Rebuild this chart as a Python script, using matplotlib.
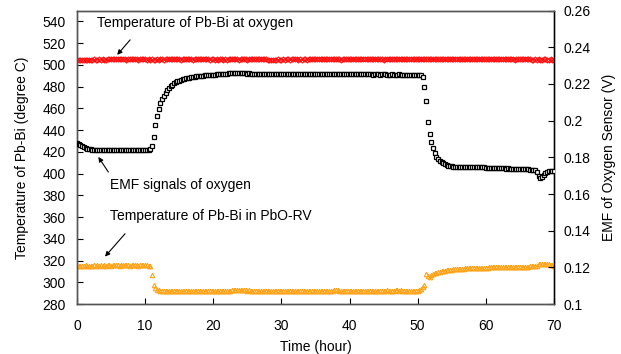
import numpy as np
import matplotlib
matplotlib.use("Agg")
import matplotlib.pyplot as plt

plt.rcParams["font.family"] = ["Liberation Sans", "DejaVu Sans"]

# sampling every 0.25 h, 0 .. 70 h
STEP = 0.25

# EMF of oxygen sensor (V)
emf = [
    0.1880, 0.1872, 0.1865, 0.1860, 0.1855, 0.1851, 0.1848, 0.1846, 0.1844, 0.1842,
    0.1841, 0.1840, 0.1840, 0.1839, 0.1839, 0.1838, 0.1839, 0.1838, 0.1838, 0.1839,
    0.1838, 0.1839, 0.1840, 0.1839, 0.1838, 0.1839, 0.1841, 0.1840, 0.1839, 0.1838,
    0.1839, 0.1840, 0.1841, 0.1840, 0.1839, 0.1838, 0.1839, 0.1840, 0.1839, 0.1840,
    0.1840, 0.1840, 0.1841, 0.1843, 0.1862, 0.1912, 0.1975, 0.2028, 0.2065, 0.2095,
    0.2119, 0.2137, 0.2153, 0.2168, 0.2180, 0.2189, 0.2197, 0.2204, 0.2209, 0.2214,
    0.2219, 0.2222, 0.2226, 0.2229, 0.2231, 0.2233, 0.2235, 0.2237, 0.2239, 0.2240,
    0.2242, 0.2243, 0.2244, 0.2245, 0.2246, 0.2247, 0.2247, 0.2248, 0.2249, 0.2249,
    0.2250, 0.2251, 0.2252, 0.2253, 0.2254, 0.2255, 0.2256, 0.2257, 0.2257, 0.2258,
    0.2259, 0.2260, 0.2260, 0.2261, 0.2260, 0.2261, 0.2259, 0.2258, 0.2259, 0.2258,
    0.2257, 0.2258, 0.2256, 0.2257, 0.2255, 0.2256, 0.2257, 0.2256, 0.2255, 0.2254,
    0.2255, 0.2256, 0.2255, 0.2254, 0.2255, 0.2256, 0.2257, 0.2256, 0.2255, 0.2254,
    0.2255, 0.2254, 0.2253, 0.2254, 0.2255, 0.2256, 0.2255, 0.2254, 0.2253, 0.2254,
    0.2255, 0.2256, 0.2257, 0.2256, 0.2255, 0.2254, 0.2253, 0.2254, 0.2255, 0.2254,
    0.2253, 0.2254, 0.2255, 0.2256, 0.2255, 0.2254, 0.2253, 0.2252, 0.2253, 0.2254,
    0.2255, 0.2254, 0.2253, 0.2254, 0.2255, 0.2254, 0.2253, 0.2252, 0.2253, 0.2254,
    0.2255, 0.2256, 0.2255, 0.2254, 0.2253, 0.2252, 0.2253, 0.2254, 0.2253, 0.2252,
    0.2253, 0.2254, 0.2253, 0.2252, 0.2251, 0.2252, 0.2253, 0.2252, 0.2251, 0.2252,
    0.2253, 0.2252, 0.2251, 0.2250, 0.2251, 0.2252, 0.2251, 0.2250, 0.2251, 0.2252,
    0.2251, 0.2250, 0.2251, 0.2250, 0.2251, 0.2250, 0.2249, 0.2250, 0.2251, 0.2250,
    0.2250, 0.2249, 0.2247, 0.2238, 0.2185, 0.2108, 0.1995, 0.1930, 0.1882, 0.1852,
    0.1822, 0.1803, 0.1789, 0.1780, 0.1773, 0.1767, 0.1762, 0.1758, 0.1755, 0.1752,
    0.1751, 0.1750, 0.1750, 0.1749, 0.1749, 0.1748, 0.1749, 0.1748, 0.1747, 0.1748,
    0.1747, 0.1747, 0.1746, 0.1747, 0.1746, 0.1746, 0.1745, 0.1746, 0.1745, 0.1745,
    0.1744, 0.1744, 0.1743, 0.1744, 0.1743, 0.1742, 0.1742, 0.1741, 0.1742, 0.1741,
    0.1740, 0.1740, 0.1739, 0.1740, 0.1739, 0.1738, 0.1738, 0.1737, 0.1738, 0.1737,
    0.1736, 0.1736, 0.1735, 0.1735, 0.1734, 0.1734, 0.1733, 0.1732, 0.1731, 0.1730,
    0.1722, 0.1700, 0.1688, 0.1692, 0.1705, 0.1716, 0.1721, 0.1724, 0.1725, 0.1726,
    0.1727,
]

# temperature of Pb-Bi at oxygen sensor (deg C)
temp_sensor = [
    504.6, 504.8, 504.5, 504.7, 504.9, 504.6, 504.8, 505.0, 504.7, 504.9,
    505.1, 504.8, 505.0, 505.2, 504.9, 505.1, 504.8, 505.0, 505.3, 505.1,
    505.4, 505.2, 505.5, 505.3, 505.6, 505.3, 505.1, 505.4, 505.2, 505.0,
    505.3, 505.5, 505.2, 505.4, 505.1, 505.3, 505.0, 505.2, 505.4, 505.1,
    505.3, 505.0, 505.2, 504.9, 505.1, 504.8, 505.0, 505.2, 504.9, 505.1,
    505.3, 505.0, 505.2, 505.4, 505.1, 505.3, 505.5, 505.2, 505.4, 505.1,
    505.3, 505.0, 505.2, 505.4, 505.1, 505.3, 505.5, 505.2, 505.0, 505.3,
    505.1, 505.4, 505.2, 505.5, 505.3, 505.1, 505.4, 505.2, 505.0, 505.3,
    505.1, 504.9, 505.2, 505.0, 505.3, 505.1, 504.9, 505.2, 505.0, 505.3,
    505.5, 505.2, 505.4, 505.1, 505.3, 505.0, 505.2, 505.4, 505.1, 505.3,
    505.0, 505.2, 505.4, 505.6, 505.3, 505.5, 505.2, 505.4, 505.1, 505.3,
    505.5, 505.2, 505.0, 504.8, 504.6, 504.5, 504.7, 504.9, 505.1, 504.8,
    505.0, 505.2, 504.9, 505.1, 505.3, 505.0, 505.2, 505.4, 505.1, 505.3,
    505.0, 505.2, 504.9, 505.1, 505.3, 505.0, 505.2, 505.4, 505.1, 505.3,
    505.5, 505.2, 505.4, 505.1, 505.3, 505.5, 505.2, 505.4, 505.6, 505.3,
    505.5, 505.2, 505.4, 505.1, 505.3, 505.0, 505.2, 505.4, 505.1, 505.3,
    505.5, 505.7, 505.4, 505.6, 505.3, 505.5, 505.2, 505.4, 505.6, 505.3,
    505.5, 505.2, 505.4, 505.1, 505.3, 505.5, 505.2, 505.4, 505.1, 505.3,
    505.0, 505.2, 505.4, 505.1, 505.3, 505.5, 505.2, 505.4, 505.6, 505.3,
    505.5, 505.7, 505.4, 505.6, 505.3, 505.5, 505.2, 505.4, 505.6, 505.3,
    505.5, 505.2, 505.4, 505.6, 505.3, 505.5, 505.7, 505.4, 505.6, 505.3,
    505.5, 505.7, 505.4, 505.6, 505.8, 505.5, 505.7, 505.4, 505.6, 505.3,
    505.5, 505.7, 505.4, 505.6, 505.3, 505.5, 505.2, 505.4, 505.6, 505.3,
    505.5, 505.2, 505.4, 505.6, 505.3, 505.5, 505.7, 505.4, 505.6, 505.3,
    505.5, 505.2, 505.4, 505.1, 505.3, 505.5, 505.2, 505.4, 505.1, 505.3,
    505.5, 505.2, 505.4, 505.6, 505.3, 505.5, 505.2, 505.0, 505.3, 505.1,
    505.4, 505.2, 505.5, 505.3, 505.1, 505.4, 505.2, 505.0, 504.8, 505.1,
    504.9, 505.2, 505.0, 504.8, 505.1, 505.3, 505.0, 504.8, 505.1, 504.9,
    505.0,
]

# temperature of Pb-Bi in PbO reaction vessel (deg C)
temp_vessel = [
    315.2, 315.4, 315.3, 315.5, 315.4, 315.6, 315.4, 315.5, 315.3, 315.5,
    315.6, 315.4, 315.6, 315.5, 315.7, 315.5, 315.6, 315.4, 315.6, 315.7,
    315.5, 315.7, 315.6, 315.8, 315.6, 315.5, 315.7, 315.6, 315.8, 315.6,
    315.7, 315.5, 315.7, 315.6, 315.8, 315.6, 315.5, 315.7, 315.6, 315.7,
    315.6, 315.7, 315.5, 315.4, 307.0, 297.5, 294.5, 293.2, 292.6, 292.3,
    292.1, 292.2, 292.0, 292.1, 291.9, 292.0, 292.2, 292.1, 292.3, 292.1,
    292.0, 292.2, 292.0, 291.9, 292.1, 291.9, 292.0, 292.2, 292.0, 291.8,
    292.0, 291.9, 292.1, 291.9, 292.0, 291.8, 292.0, 292.1, 291.9, 292.0,
    292.1, 291.9, 292.0, 292.2, 292.0, 292.1, 291.9, 292.1, 292.0, 292.2,
    292.4, 292.6, 292.8, 292.9, 292.7, 292.8, 292.6, 292.7, 292.5, 292.6,
    292.4, 292.5, 292.3, 292.4, 292.2, 292.3, 292.1, 292.2, 292.0, 292.1,
    292.2, 292.0, 292.1, 292.3, 292.1, 292.2, 292.0, 292.1, 292.2, 292.0,
    292.1, 292.3, 292.1, 292.2, 292.0, 292.1, 292.3, 292.2, 292.4, 292.2,
    292.3, 292.1, 292.3, 292.2, 292.0, 292.2, 292.1, 292.3, 292.1, 292.2,
    292.0, 292.2, 292.1, 292.3, 292.1, 292.2, 292.0, 292.1, 292.3, 292.1,
    292.4, 292.6, 292.8, 292.6, 292.4, 292.2, 292.1, 292.2, 292.0, 292.1,
    292.2, 292.1, 292.0, 292.2, 292.1, 291.9, 292.1, 292.0, 292.2, 292.1,
    292.3, 292.1, 292.2, 292.0, 292.2, 292.1, 292.3, 292.1, 292.2, 292.4,
    292.2, 292.3, 292.5, 292.3, 292.4, 292.2, 292.3, 292.5, 292.6, 292.4,
    292.5, 292.3, 292.4, 292.2, 292.3, 292.1, 292.2, 292.4, 292.2, 292.3,
    292.2, 292.5, 293.5, 296.0, 297.5, 307.5, 306.0, 305.0, 306.5, 307.5,
    308.3, 308.9, 309.4, 309.8, 310.2, 310.5, 310.8, 311.1, 311.3, 311.5,
    311.7, 311.9, 312.0, 312.2, 312.3, 312.5, 312.6, 312.7, 312.8, 312.9,
    313.0, 313.1, 313.1, 313.2, 313.3, 313.3, 313.4, 313.4, 313.5, 313.5,
    313.6, 313.6, 313.7, 313.7, 313.8, 313.8, 313.9, 313.9, 314.0, 314.0,
    314.0, 314.1, 314.1, 314.1, 314.2, 314.2, 314.2, 314.3, 314.3, 314.3,
    314.3, 314.4, 314.4, 314.5, 314.5, 314.5, 314.6, 314.6, 314.7, 314.7,
    315.5, 316.8, 317.2, 317.0, 316.9, 316.8, 316.6, 316.5, 316.3, 316.1,
    315.5,
]

hours = np.arange(len(emf)) * STEP

x_ticks = [0, 10, 20, 30, 40, 50, 60, 70]
temp_ticks = list(range(280, 541, 20))
emf_ticks = [0.1, 0.12, 0.14, 0.16, 0.18, 0.2, 0.22, 0.24, 0.26]
emf_tick_labels = ["0.1", "0.12", "0.14", "0.16", "0.18", "0.2", "0.22", "0.24", "0.26"]

fig = plt.figure(figsize=(6.21, 3.54), dpi=100)
ax = fig.add_axes([0.124, 0.141, 0.768, 0.829])
ax2 = ax.twinx()

ax.plot(hours, temp_sensor, linestyle="none", marker="D", markersize=2.6,
        markerfacecolor="none", markeredgecolor="#ff1010", markeredgewidth=0.8, zorder=3)
ax.plot(hours, temp_vessel, linestyle="none", marker="^", markersize=3.2,
        markerfacecolor="none", markeredgecolor="#ffa319", markeredgewidth=0.8, zorder=3)
ax2.plot(hours, emf, linestyle="none", marker="s", markersize=3.3,
         markerfacecolor="white", markeredgecolor="black", markeredgewidth=0.9, zorder=3)

ax.set_xlim(0, 70)
ax.set_ylim(280, 550)
ax2.set_ylim(0.1, 0.26)
ax.set_xticks(x_ticks)
ax.set_yticks(temp_ticks)
ax2.set_yticks(emf_ticks)
ax2.set_yticklabels(emf_tick_labels)

for a in (ax, ax2):
    a.tick_params(direction="in", length=4, width=0.8, labelsize=10,
                  colors="black")
    for side in a.spines.values():
        side.set_color("#555555")
        side.set_linewidth(1.0)
ax2.spines["right"].set_color("black")
ax.tick_params(axis="x", pad=11)
ax.tick_params(axis="y", pad=8)
ax2.tick_params(axis="y", pad=7)

ax.set_xlabel("Time (hour)", fontsize=10, labelpad=5)
ax.set_ylabel("Temperature of Pb-Bi (degree C)", fontsize=10, labelpad=10)
ax2.set_ylabel("EMF of Oxygen Sensor (V)", fontsize=10, labelpad=8)

arrow = dict(arrowstyle="-|>", color="black", lw=0.8, mutation_scale=7,
             shrinkA=0, shrinkB=0)
ax.text(2.9, 538.8, "Temperature of Pb-Bi at oxygen", fontsize=10,
        ha="left", va="center")
ax.annotate("", xy=(5.9, 509.3), xytext=(7.8, 523.1), arrowprops=arrow)
ax.text(4.84, 389.3, "EMF signals of oxygen", fontsize=10,
        ha="left", va="center")
ax.annotate("", xy=(3.13, 415.4), xytext=(4.6, 401.5), arrowprops=arrow)
ax.text(4.84, 360.6, "Temperature of Pb-Bi in PbO-RV", fontsize=10,
        ha="left", va="center")
ax.annotate("", xy=(4.11, 323.7), xytext=(7.05, 344.7), arrowprops=arrow)

fig.savefig("out.png", dpi=100)
